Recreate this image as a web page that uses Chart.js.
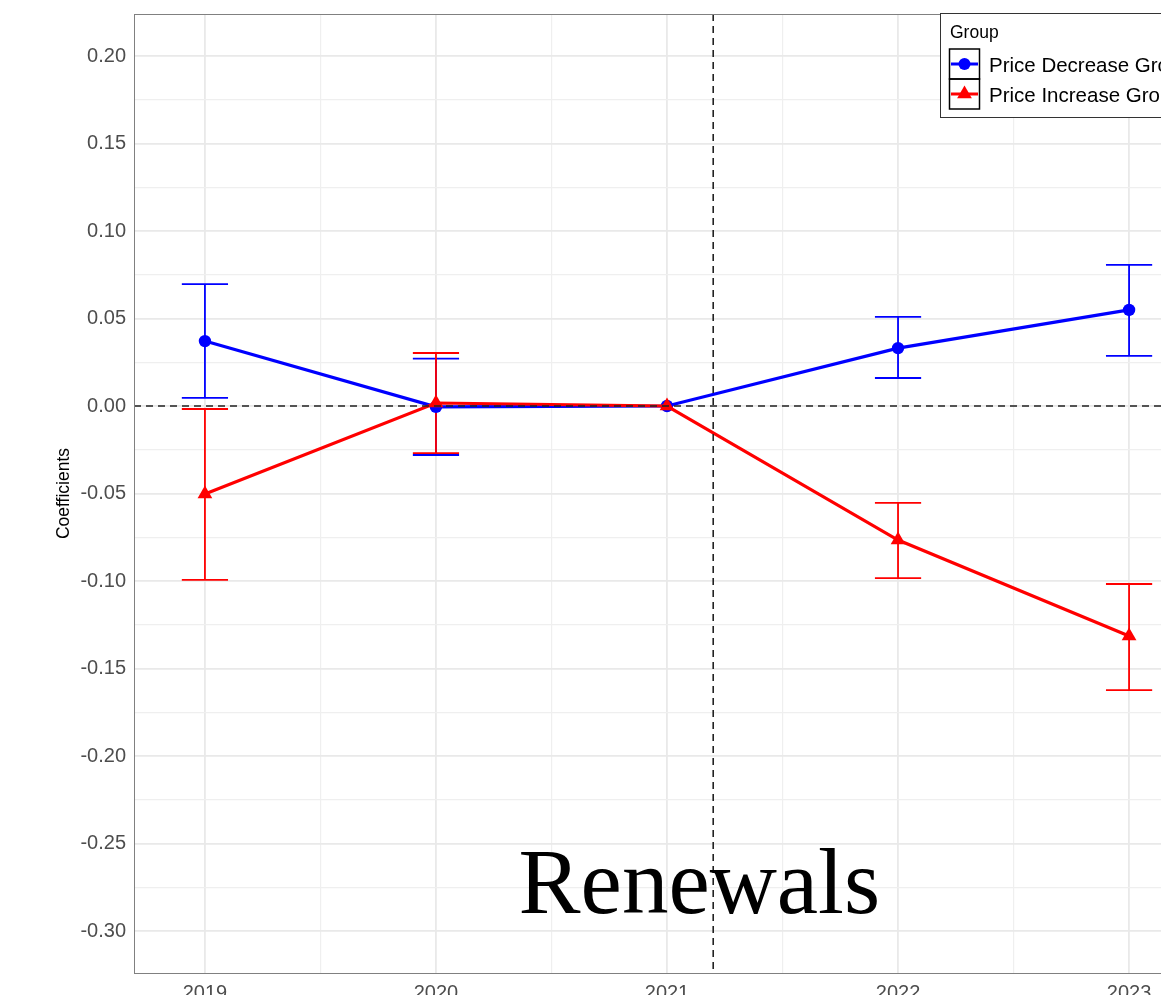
<!DOCTYPE html>
<html><head><meta charset="utf-8">
<script src="https://cdn.jsdelivr.net/npm/chart.js@4"></script>
<style>html,body{margin:0;padding:0;background:#fff;overflow:hidden;width:1161px;height:995px}canvas{position:absolute;left:0;top:0}</style>
</head><body><canvas id="c" width="1230" height="1030"></canvas>
<script>
const years = [2019, 2020, 2021, 2022, 2023];
const decreaseCoef = [0.0371, -0.0005, 0, 0.0331, 0.0549];
const decreaseLow = [0.0046, -0.0280, null, 0.0160, 0.0286];
const decreaseHigh = [0.0697, 0.0271, null, 0.0509, 0.0806];
const increaseCoef = [-0.0503, 0.0017, 0, -0.0766, -0.1314];
const increaseLow = [-0.0994, -0.0269, null, -0.0983, -0.1623];
const increaseHigh = [-0.0017, 0.0303, null, -0.0554, -0.1017];
const seriesNames = ['Price Decrease Group', 'Price Increase Group'];
const legendTitle = 'Group';
const yTitle = 'Coefficients';
const annotationText = 'Renewals';
const annotationPos = {x: 2021.14, y: -0.2897};
const treatmentYear = 2021.2;
const xRange = [2018.693, 2023.307];
const yRange = [-0.324, 0.224];
const capHalfWidth = 0.1;

const FONT = '"Liberation Sans", Arial, Helvetica, sans-serif';

const errorBars = {
  id: 'errorBars',
  beforeDatasetsDraw(chart) {
    const {ctx, scales: {x, y}} = chart;
    ctx.save();
    chart.data.datasets.forEach(ds => {
      ctx.strokeStyle = ds.borderColor;
      ctx.lineWidth = 1.8;
      ds.data.forEach((p, i) => {
        const lo = ds.errLow[i], hi = ds.errHigh[i];
        if (lo == null || hi == null) return;
        const px = x.getPixelForValue(p.x);
        const x0 = x.getPixelForValue(p.x - capHalfWidth), x1 = x.getPixelForValue(p.x + capHalfWidth);
        const yl = y.getPixelForValue(lo), yh = y.getPixelForValue(hi);
        ctx.beginPath();
        ctx.moveTo(px, yl); ctx.lineTo(px, yh);
        ctx.moveTo(x0, yl); ctx.lineTo(x1, yl);
        ctx.moveTo(x0, yh); ctx.lineTo(x1, yh);
        ctx.stroke();
      });
    });
    ctx.restore();
  }
};

const refLines = {
  id: 'refLines',
  afterDatasetsDraw(chart) {
    const {ctx, chartArea: a, scales: {x, y}} = chart;
    ctx.save();
    ctx.strokeStyle = '#222';
    ctx.lineWidth = 1.6;
    ctx.setLineDash([7, 5]);
    const y0 = y.getPixelForValue(0);
    ctx.beginPath(); ctx.moveTo(a.left, y0); ctx.lineTo(a.right, y0); ctx.stroke();
    const xv = x.getPixelForValue(treatmentYear);
    ctx.beginPath(); ctx.moveTo(xv, a.top); ctx.lineTo(xv, a.bottom); ctx.stroke();
    ctx.setLineDash([]);
    ctx.strokeStyle = '#808080';
    ctx.lineWidth = 1;
    ctx.strokeRect(a.left + 0.5, a.top + 0.5, a.right - a.left, a.bottom - a.top);
    ctx.fillStyle = '#000';
    ctx.font = '93px "Liberation Serif", "Times New Roman", serif';
    ctx.textAlign = 'center';
    ctx.textBaseline = 'alphabetic';
    ctx.fillText(annotationText, x.getPixelForValue(annotationPos.x), y.getPixelForValue(annotationPos.y));
    ctx.restore();
  }
};

const legendBox = {
  id: 'legendBox',
  afterDraw(chart) {
    const {ctx, chartArea: a} = chart;
    const left = a.left + 806, top = a.top - 1;
    ctx.save();
    ctx.fillStyle = '#fff';
    ctx.fillRect(left, top, 262, 104);
    ctx.strokeStyle = '#333';
    ctx.lineWidth = 1;
    ctx.strokeRect(left + 0.5, top + 0.5, 262, 104);
    ctx.fillStyle = '#000';
    ctx.font = '17.5px ' + FONT;
    ctx.textBaseline = 'alphabetic';
    ctx.textAlign = 'left';
    ctx.fillText(legendTitle, left + 10, top + 25);
    chart.data.datasets.forEach((ds, i) => {
      const ky = top + 36 + i * 30;
      const kx = left + 9;
      ctx.strokeStyle = '#000';
      ctx.lineWidth = 1.5;
      ctx.strokeRect(kx + 0.5, ky, 30, 30);
      const cy = ky + 15;
      ctx.strokeStyle = ds.borderColor;
      ctx.lineWidth = 3;
      ctx.beginPath(); ctx.moveTo(kx + 2, cy); ctx.lineTo(kx + 29, cy); ctx.stroke();
      ctx.fillStyle = ds.borderColor;
      const mx = kx + 15.5;
      ctx.beginPath();
      if (ds.pointStyle === 'triangle') {
        const r = 8.5;
        ctx.moveTo(mx, cy - r);
        ctx.lineTo(mx + r * Math.sin(2 * Math.PI / 3), cy - r * Math.cos(2 * Math.PI / 3));
        ctx.lineTo(mx + r * Math.sin(4 * Math.PI / 3), cy - r * Math.cos(4 * Math.PI / 3));
        ctx.closePath();
      } else {
        ctx.arc(mx, cy, 6, 0, Math.PI * 2);
      }
      ctx.fill();
      ctx.fillStyle = '#000';
      ctx.font = '20.5px ' + FONT;
      ctx.fillText(ds.label, left + 49, cy + 7.5);
    });
    ctx.restore();
  }
};

const isMajor = (v, per) => Math.abs(Math.round(v * per) - v * per) < 1e-6;

new Chart(document.getElementById('c'), {
  type: 'line',
  data: {
    datasets: [
      {
        label: seriesNames[0],
        data: years.map((x, i) => ({x, y: decreaseCoef[i]})),
        errLow: decreaseLow, errHigh: decreaseHigh,
        borderColor: '#0000ff', backgroundColor: '#0000ff',
        borderWidth: 3.2, pointStyle: 'circle', pointRadius: 6.2, pointBorderWidth: 0,
        tension: 0, order: 2
      },
      {
        label: seriesNames[1],
        data: years.map((x, i) => ({x, y: increaseCoef[i]})),
        errLow: increaseLow, errHigh: increaseHigh,
        borderColor: '#ff0000', backgroundColor: '#ff0000',
        borderWidth: 3.2, pointStyle: 'triangle', pointRadius: 8.5, pointBorderWidth: 0,
        tension: 0, order: 1
      }
    ]
  },
  options: {
    responsive: false,
    animation: false,
    events: [],
    layout: {padding: {top: 14, right: 30, left: 0, bottom: 0}},
    plugins: {legend: {display: false}, tooltip: {enabled: false}},
    scales: {
      x: {
        type: 'linear', min: xRange[0], max: xRange[1],
        afterFit(s) { s.height = 57; s.paddingLeft = 0; s.paddingRight = 0; },
        border: {display: false},
        grid: {
          drawTicks: false,
          color: c => isMajor(c.tick.value, 1) ? '#e9e9e9' : '#efefef',
          lineWidth: c => isMajor(c.tick.value, 1) ? 1.8 : 1.2
        },
        ticks: {
          stepSize: 0.5, includeBounds: false, autoSkip: false, maxRotation: 0,
          padding: 8, color: '#4d4d4d', font: {family: FONT, size: 20},
          callback: v => isMajor(v, 1) ? String(Math.round(v)) : ''
        }
      },
      y: {
        type: 'linear', min: yRange[0], max: yRange[1],
        afterFit(s) { s.width = 134; s.paddingTop = 0; s.paddingBottom = 0; },
        border: {display: false},
        grid: {
          drawTicks: false,
          color: c => isMajor(c.tick.value, 20) ? '#e9e9e9' : '#efefef',
          lineWidth: c => isMajor(c.tick.value, 20) ? 1.8 : 1.2
        },
        ticks: {
          stepSize: 0.025, includeBounds: false, autoSkip: false,
          padding: 8, color: '#4d4d4d', font: {family: FONT, size: 20},
          callback: v => isMajor(v, 20) ? (Math.round(v * 20) / 20).toFixed(2) : ''
        },
        title: {
          display: true, text: yTitle, color: '#000',
          font: {family: FONT, size: 17.5}, padding: {top: 54}
        }
      }
    }
  },
  plugins: [errorBars, refLines, legendBox]
});
</script>
</body></html>
